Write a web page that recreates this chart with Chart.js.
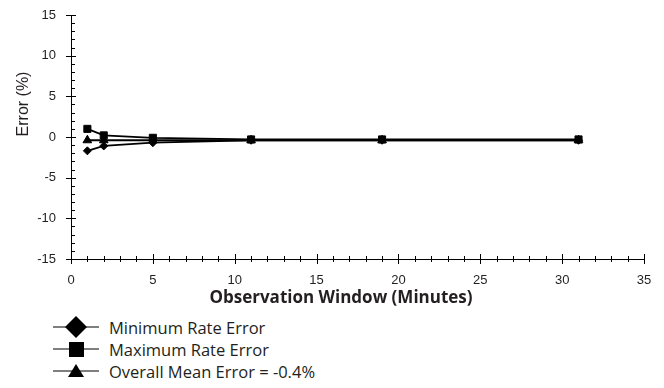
<!DOCTYPE html>
<html>
<head>
<meta charset="utf-8">
<script src="https://cdn.jsdelivr.net/npm/chart.js@4"></script>
<style>
  body { margin: 0; background: #fff; }
  #wrap { position: relative; width: 664px; height: 310px; }
  .legend { position: relative; width: 664px; height: 78px; font-family: "Open Sans", sans-serif; font-size: 16.5px; color: #231f20; }
  .row { position: absolute; left: 53px; height: 22px; display: flex; align-items: center; }
  .row svg { width: 46px; height: 22px; }
  .row span { margin-left: 10px; white-space: nowrap; }
</style>
</head>
<body>
<div id="wrap"><canvas id="c" width="664" height="310"></canvas></div>
<div class="legend" id="legend"></div>
<script>
// observation window (minutes)
var windows = [1, 2, 5, 11, 19, 31]
var minError = [-1.7, -1.1, -0.7, -0.4, -0.4, -0.4]
var maxError = [1.0, 0.2, -0.1, -0.3, -0.3, -0.3]
var meanError = [-0.4, -0.4, -0.4, -0.4, -0.4, -0.4]
var seriesNames = ['Minimum Rate Error', 'Maximum Rate Error', 'Overall Mean Error = -0.4%']
var xTicks = [0, 5, 10, 15, 20, 25, 30, 35]
var yTicks = [-15, -10, -5, 0, 5, 10, 15]

function pts(vals) {
    return vals.map(function (v, i) { return { x: windows[i], y: v } })
}

// draws major/minor tick marks and both axis titles
var axisDecor = {
    id: 'axisDecor',
    afterDraw: function (chart) {
        var ctx = chart.ctx
        var xs = chart.scales.x, ys = chart.scales.y
        var area = chart.chartArea
        ctx.save()
        ctx.strokeStyle = '#000'
        ctx.lineWidth = 1
        ctx.beginPath()
        for (var v = xTicks[0]; v <= xTicks[xTicks.length - 1]; v++) {
            var px = Math.round(xs.getPixelForValue(v)) + 0.5
            var major = v % 5 === 0
            ctx.moveTo(px, area.bottom - (major ? 5 : 3))
            ctx.lineTo(px, area.bottom + (major ? 5 : 3))
        }
        for (var w = yTicks[0]; w <= yTicks[yTicks.length - 1]; w++) {
            var py = Math.round(ys.getPixelForValue(w)) + 0.5
            var maj = w % 5 === 0
            ctx.moveTo(area.left - (maj ? 5 : 0), py)
            ctx.lineTo(area.left + (maj ? 5 : 4), py)
        }
        ctx.stroke()
        ctx.fillStyle = '#231f20'
        ctx.textAlign = 'center'
        ctx.textBaseline = 'middle'
        ctx.font = 'bold 17px "Open Sans", sans-serif'
        ctx.fillText('Observation Window (Minutes)', 341, 298)
        ctx.translate(24, 104)
        ctx.rotate(-Math.PI / 2)
        ctx.font = '16px "Liberation Sans", Arial, sans-serif'
        ctx.fillText('Error (%)', 0, 0)
        ctx.restore()
    }
}

var ds = function (label, vals, style, r) {
    return {
        label: label,
        data: pts(vals),
        borderColor: '#000',
        backgroundColor: '#000',
        borderWidth: 1.8,
        pointStyle: style,
        pointRadius: r,
        pointHoverRadius: r,
        pointBorderWidth: 1,
        tension: 0
    }
}

var tickFont = { family: '"Liberation Sans", Arial, sans-serif', size: 13 }

var ctx = document.getElementById('c').getContext('2d')
new Chart(ctx, {
    type: 'line',
    data: {
        datasets: [
            ds(seriesNames[2], meanError, 'triangle', 5),
            ds(seriesNames[0], minError, 'rectRot', 4),
            ds(seriesNames[1], maxError, 'rect', 5)
        ]
    },
    options: {
        responsive: false,
        animation: false,
        layout: { autoPadding: false, padding: { top: 15, right: 20, left: 0, bottom: 0 } },
        plugins: { legend: { display: false }, tooltip: { enabled: false } },
        scales: {
            x: {
                type: 'linear',
                min: 0, max: 35,
                afterBuildTicks: function (s) { s.ticks = xTicks.map(function (v) { return { value: v } }) },
                afterFit: function (s) { s.height = 51; s.paddingLeft = 0; s.paddingRight = 0 },
                grid: { drawOnChartArea: false, drawTicks: false },
                border: { color: '#000', width: 1 },
                ticks: { padding: 14, color: '#231f20', font: tickFont, maxRotation: 0 }
            },
            y: {
                min: -15, max: 15,
                afterBuildTicks: function (s) { s.ticks = yTicks.map(function (v) { return { value: v } }) },
                afterFit: function (s) { s.width = 71; s.paddingTop = 0; s.paddingBottom = 0 },
                grid: { drawOnChartArea: false, drawTicks: false },
                border: { color: '#000', width: 1 },
                ticks: { padding: 15, color: '#231f20', font: tickFont }
            }
        }
    },
    plugins: [axisDecor]
})

// legend below the chart
var markers = [
    '<polygon points="23,0 34,11 23,22 12,11" fill="#000"/>',
    '<rect x="16" y="4" width="15" height="15" fill="#000"/>',
    '<polygon points="23,4 31,17 15,17" fill="#000"/>'
]
var rowsY = [6, 28, 50]
var legend = document.getElementById('legend')
seriesNames.forEach(function (name, i) {
    var row = document.createElement('div')
    row.className = 'row'
    row.style.top = rowsY[i] + 'px'
    row.innerHTML = '<svg viewBox="0 0 46 22"><line x1="0" y1="11" x2="46" y2="11" stroke="#000" stroke-width="1.2"/>' +
        markers[i] + '</svg><span>' + name + '</span>'
    legend.appendChild(row)
})
</script>
</body>
</html>
